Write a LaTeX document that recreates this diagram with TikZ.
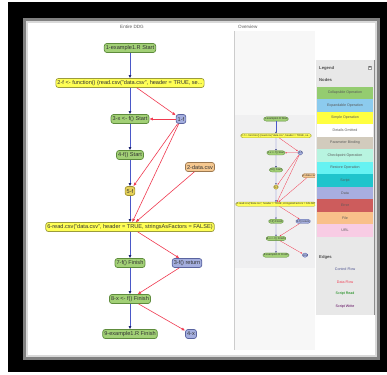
\documentclass[tikz,border=0pt]{standalone}
\usepackage{fontspec}
\setmainfont{Liberation Sans}
\usetikzlibrary{arrows.meta}

\definecolor{opgreen}{HTML}{A2D076}
\definecolor{opgreenline}{HTML}{5E8C3C}
\definecolor{opyellow}{HTML}{FFFF55}
\definecolor{opyellowline}{HTML}{9C9C3C}
\definecolor{opgold}{HTML}{E6D25A}
\definecolor{opgoldline}{HTML}{A09030}
\definecolor{opdata}{HTML}{A4AEDE}
\definecolor{opdataline}{HTML}{5A64A0}
\definecolor{opfile}{HTML}{F5C890}
\definecolor{opfileline}{HTML}{9C7850}
\definecolor{ctrlblue}{HTML}{4A58C8}
\definecolor{ctrlnavy}{HTML}{1A2270}
\definecolor{flowred}{HTML}{F03A50}
\definecolor{legcollapsible}{HTML}{94CC70}
\definecolor{legexpandable}{HTML}{8CCBEE}
\definecolor{legsimple}{HTML}{FFFF40}
\definecolor{legparameter}{HTML}{D2CBBD}
\definecolor{legcheckpoint}{HTML}{B8F4E0}
\definecolor{legrestore}{HTML}{66F2F2}
\definecolor{legscript}{HTML}{20C4CC}
\definecolor{legdata}{HTML}{A8AEE0}
\definecolor{legerror}{HTML}{CD5C5C}
\definecolor{legfile}{HTML}{F9C08A}
\definecolor{legurl}{HTML}{F8CCE4}

\tikzset{
  op/.style={draw, rounded corners=2.5pt, line width=0.7pt, inner xsep=1.6pt, inner ysep=0.8pt,
    minimum height=9pt, font=\fontsize{5.6}{5.6}\selectfont, text=black!80},
  collapsible/.style={op, fill=opgreen, draw=opgreenline},
  simple/.style={op, fill=opyellow, draw=opyellowline},
  goldop/.style={op, fill=opgold, draw=opgoldline},
  datanode/.style={op, fill=opdata, draw=opdataline},
  filenode/.style={op, fill=opfile, draw=opfileline},
  control/.style={draw=ctrlblue, line width=0.8pt, -{Latex[length=3pt,width=3pt,color=ctrlnavy]}},
  dataflow/.style={draw=flowred, line width=0.6pt, -{Latex[length=3.5pt,width=3pt,color=flowred]}},
  legitem/.style={minimum width=56pt, minimum height=12.5pt, inner sep=0pt,
    font=\fontsize{3.6}{4}\selectfont, text=black!65},
  legedge/.style={font=\fontsize{3.6}{4}\selectfont},
  legtitle/.style={anchor=west, inner sep=0pt, font=\fontsize{4.2}{4}\selectfont\bfseries, text=black!70},
  paneltitle/.style={inner sep=0pt, font=\fontsize{4.6}{5}\selectfont, text=black!65}
}

\begin{document}
\begin{tikzpicture}[x=1pt, y=-1pt]
    % frame and panels
    \useasboundingbox (0,0) rectangle (387,374);
    \fill[white] (0,0) rectangle (387,374);
    \fill[black] (8,2) rectangle (387,372);
    \fill[black!50] (23,18) rectangle (380,360);
    \fill[black!15] (26,21) rectangle (377,357);
    \fill[white] (28,23) rectangle (375,355);
    \fill[black!3] (235,31) rectangle (315,350);
    \draw[black!20] (234,31) -- (234,350);
    \fill[blue!10!black!6] (235,115) rectangle (315,268);
    \fill[black!9] (316,60) rectangle (375,315);
    \draw[black!45, line width=1pt] (374,60) -- (374,315);

    \node[paneltitle] (main-title) at (132,27) {Entire DDG};
    \node[paneltitle, anchor=west] (overview-title) at (238,27) {Overview};

    % entire DDG
    \node[collapsible] (p1) at (130,48) {1-example1.R Start};
    \node[simple] (p2) at (130,83) {2-f <- function() \{read.csv("data.csv", header = TRUE, se...};
    \node[collapsible] (p3) at (130,119) {3-x <- f() Start};
    \node[collapsible] (p4) at (130,155) {4-f() Start};
    \node[goldop] (p5) at (130,191) {5-f};
    \node[simple] (p6) at (130,227) {6-read.csv("data.csv", header = TRUE, stringsAsFactors = FALSE)};
    \node[collapsible] (p7) at (130,263) {7-f() Finish};
    \node[collapsible] (p8) at (130,299) {8-x <- f() Finish};
    \node[collapsible] (p9) at (130,334) {9-example1.R Finish};
    \node[datanode] (d1) at (181,119) {1-f};
    \node[filenode] (d2) at (200,167) {2-data.csv};
    \node[datanode] (d3) at (187,263) {3-f() return};
    \node[datanode] (d4) at (191,334) {4-x};

    \draw[control] (p1) -- (p2);
    \draw[control] (p2) -- (p3);
    \draw[control] (p3) -- (p4);
    \draw[control] (p4) -- (p5);
    \draw[control] (p5) -- (p6);
    \draw[control] (p6) -- (p7);
    \draw[control] (p7) -- (p8);
    \draw[control] (p8) -- (p9);
    \draw[dataflow] (p2) -- (d1);
    \draw[dataflow] (d1) -- (p3);
    \draw[dataflow] (d1) -- (p5);
    \draw[dataflow] (d1) -- (p6);
    \draw[dataflow] (d2) -- (p6);
    \draw[dataflow] (p6) -- (d3);
    \draw[dataflow] (d3) -- (p8);
    \draw[dataflow] (p8) -- (d4);

    % overview
    \begin{scope}
    \clip (235,115) rectangle (315,268);
    \begin{scope}[shift={(214.1,96.15)}, scale=0.476, transform shape,
        op/.append style={line width=0.3pt},
        control/.append style={line width=0.35pt, -{Latex[length=1.5pt,width=1.5pt,color=ctrlnavy]}},
        dataflow/.append style={line width=0.3pt, -{Latex[length=1.6pt,width=1.5pt,color=flowred]}}]
    \node[collapsible] (ov-p1) at (130,48) {1-example1.R Start};
    \node[simple] (ov-p2) at (130,83) {2-f <- function() \{read.csv("data.csv", header = TRUE, se...};
    \node[collapsible] (ov-p3) at (130,119) {3-x <- f() Start};
    \node[collapsible] (ov-p4) at (130,155) {4-f() Start};
    \node[goldop] (ov-p5) at (130,191) {5-f};
    \node[simple] (ov-p6) at (130,227) {6-read.csv("data.csv", header = TRUE, stringsAsFactors = FALSE)};
    \node[collapsible] (ov-p7) at (130,263) {7-f() Finish};
    \node[collapsible] (ov-p8) at (130,299) {8-x <- f() Finish};
    \node[collapsible] (ov-p9) at (130,334) {9-example1.R Finish};
    \node[datanode] (ov-d1) at (181,119) {1-f};
    \node[filenode] (ov-d2) at (200,167) {2-data.csv};
    \node[datanode] (ov-d3) at (187,263) {3-f() return};
    \node[datanode] (ov-d4) at (191,334) {4-x};

    \draw[control] (ov-p1) -- (ov-p2);
    \draw[control] (ov-p2) -- (ov-p3);
    \draw[control] (ov-p3) -- (ov-p4);
    \draw[control] (ov-p4) -- (ov-p5);
    \draw[control] (ov-p5) -- (ov-p6);
    \draw[control] (ov-p6) -- (ov-p7);
    \draw[control] (ov-p7) -- (ov-p8);
    \draw[control] (ov-p8) -- (ov-p9);
    \draw[dataflow] (ov-p2) -- (ov-d1);
    \draw[dataflow] (ov-d1) -- (ov-p3);
    \draw[dataflow] (ov-d1) -- (ov-p5);
    \draw[dataflow] (ov-d1) -- (ov-p6);
    \draw[dataflow] (ov-d2) -- (ov-p6);
    \draw[dataflow] (ov-p6) -- (ov-d3);
    \draw[dataflow] (ov-d3) -- (ov-p8);
    \draw[dataflow] (ov-p8) -- (ov-d4);
    \end{scope}
    \end{scope}

    % legend
    \node[legtitle] (legend-title) at (319,68) {Legend};
    \node[draw=black!40, fill=white, inner sep=0.6pt, font=\fontsize{3.6}{4}\selectfont] (legend-close) at (370,68) {x};
    \node[legtitle] (nodes-title) at (319,80) {Nodes};
    \node[legitem, fill=legcollapsible] (leg-collapsible) at (345,93) {Collapsible Operation};
    \node[legitem, fill=legexpandable] (leg-expandable) at (345,105.5) {Expandable Operation};
    \node[legitem, fill=legsimple] (leg-simple) at (345,118) {Simple Operation};
    \node[legitem, fill=white] (leg-details) at (345,130.5) {Details Omitted};
    \node[legitem, fill=legparameter] (leg-parameter) at (345,143) {Parameter Binding};
    \node[legitem, fill=legcheckpoint] (leg-checkpoint) at (345,155.5) {Checkpoint Operation};
    \node[legitem, fill=legrestore] (leg-restore) at (345,168) {Restore Operation};
    \node[legitem, fill=legscript] (leg-script) at (345,180.5) {Script};
    \node[legitem, fill=legdata] (leg-data) at (345,193) {Data};
    \node[legitem, fill=legerror] (leg-error) at (345,205.5) {Error};
    \node[legitem, fill=legfile] (leg-file) at (345,218) {File};
    \node[legitem, fill=legurl] (leg-url) at (345,230.5) {URL};
    \node[legtitle] (edges-title) at (319,257) {Edges};
    \node[legedge, text=ctrlnavy!80] (leg-control) at (345,269) {Control Flow};
    \node[legedge, text=flowred] (leg-dataflow) at (345,282) {Data Flow};
    \node[legedge, text=green!50!black] (leg-read) at (345,294) {Script Read};
    \node[legedge, text=violet!70!black] (leg-write) at (345,307) {Script Write};
\end{tikzpicture}
\end{document}
